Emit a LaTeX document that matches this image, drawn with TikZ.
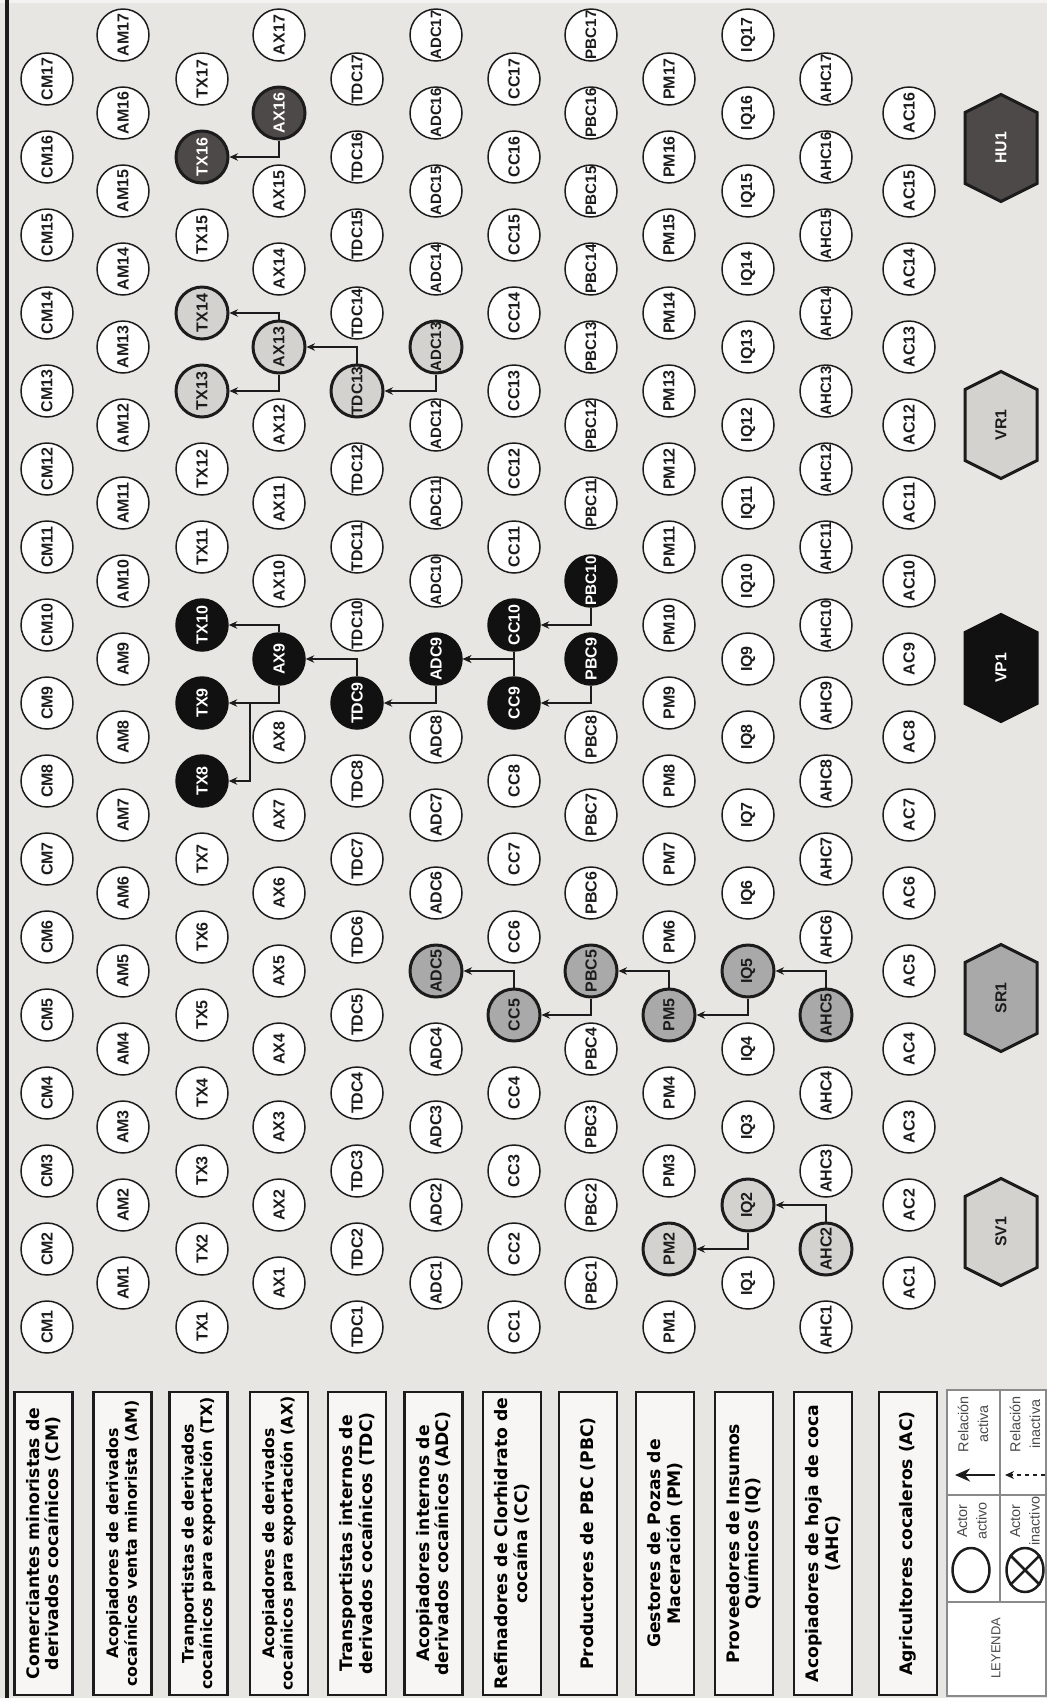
\documentclass[tikz,border=0pt]{standalone}
\usepackage{fontspec}
\setmainfont{Liberation Sans}
\newfontfamily\rolefont{DejaVu Sans}
\usetikzlibrary{arrows.meta, calc, shapes.geometric, shapes.symbols}
\definecolor{PaperGray}{HTML}{E8E6E3}
\definecolor{EdgeLight}{HTML}{F4F3F1}
\definecolor{InkBlack}{HTML}{1C1C1C}
\definecolor{BoxWhite}{HTML}{F7F6F4}
\definecolor{LightFill}{HTML}{D3D2CF}
\definecolor{MidFill}{HTML}{A9A9A9}
\definecolor{DarkFill}{HTML}{4D4948}
\definecolor{BlackFill}{HTML}{111111}
\definecolor{LegendGray}{HTML}{8A8A8A}
\definecolor{LegendText}{HTML}{4A4A4A}
\newsavebox\actorlabel
\newcommand\fitlabel[1]{\sbox\actorlabel{#1}\ifdim\wd\actorlabel>9.8mm\resizebox{9.8mm}{!}{\usebox\actorlabel}\else\usebox\actorlabel\fi}
\tikzset{
  actor/.style={circle, draw=InkBlack, line width=0.3mm, fill=white, minimum size=10.4mm, inner sep=0pt, rotate=90, text=InkBlack, font=\fontsize{9.1}{10}\selectfont\bfseries},
  lightactor/.style={fill=LightFill, line width=0.6mm},
  midactor/.style={fill=MidFill, line width=0.6mm},
  darkactor/.style={fill=DarkFill, line width=0.6mm, text=white},
  blackactor/.style={fill=BlackFill, draw=BlackFill, text=white},
  paint light/.style={on #1/.style=lightactor},
  paint mid/.style={on #1/.style=midactor},
  paint dark/.style={on #1/.style=darkactor},
  paint black/.style={on #1/.style=blackactor},
  paint light/.list={PM2,IQ2,AHC2,TX13,TX14,AX13,TDC13,ADC13},
  paint mid/.list={AHC5,IQ5,PM5,PBC5,CC5,ADC5},
  paint black/.list={TX8,TX9,TX10,AX9,TDC9,ADC9,CC9,CC10,PBC9,PBC10},
  paint dark/.list={TX16,AX16},
  hexbox/.style={signal, signal to=east and west, signal pointer angle=127, rotate=90, draw=InkBlack, line width=0.6mm, minimum width=21.4mm, minimum height=14.4mm, inner sep=0pt, text=InkBlack, font=\fontsize{9}{10}\selectfont\bfseries},
  rolebox/.style={draw=InkBlack, line width=0.5mm, fill=BoxWhite, rotate=90, align=center, minimum width=60.6mm, minimum height=11.6mm, inner sep=1pt, font=\rolefont\bfseries\fontsize{9.8}{11}\selectfont},
  tightbox/.style={font=\rolefont\bfseries\fontsize{9}{10.6}\selectfont},
  tight AM/.style=tightbox, tight TX/.style=tightbox, tight AX/.style=tightbox,
  legtext/.style={rotate=90, align=center, text=LegendText, inner sep=0pt, font=\fontsize{8.2}{11.2}\selectfont},
  legcircle/.style={ellipse, draw=InkBlack, line width=0.5mm, minimum width=7.4mm, minimum height=8.8mm, inner sep=0pt},
  rel/.style={-{Stealth[length=1.7mm, width=1.5mm]}, line width=0.27mm, draw=InkBlack},
  legarrow/.style={-{Stealth[length=3mm, width=2.6mm]}, line width=0.55mm, draw=InkBlack},
  legdash/.style={-{Stealth[length=1.8mm, width=1.6mm]}, line width=0.35mm, draw=InkBlack, dash pattern=on 0.8mm off 0.8mm}
}

\begin{document}
\begin{tikzpicture}[x=0.02cm, y=-0.02cm]
\useasboundingbox (0,0) rectangle (1047,1698);
\fill[PaperGray] (0,0) rectangle (1047,1698);
\fill[EdgeLight] (0,0) rectangle (1047,3);
\draw[InkBlack, line width=0.8mm] (7,0) -- (7,1698);

% actors, one column per link of the chain
\foreach \r/\x/\y/\n in {CM/47/1327/17, AM/123/1283/17, TX/202/1327/17, AX/279/1283/17, TDC/357/1327/17, ADC/436/1283/17, CC/514/1327/17, PBC/591/1283/17, PM/669/1327/17, IQ/748/1283/17, AHC/826/1327/17, AC/909/1283/16}
  \foreach \k in {1,...,\n}
    \node[actor, on \r\k/.try] (\r\k) at (\x,{\y-78*(\k-1)}) {\makebox[0pt]{\fitlabel{\r\k}}};

% networks
\node[hexbox, fill=LightFill] (SV1) at (1001,1232) {SV1};
\node[hexbox, fill=MidFill] (SR1) at (1001,998) {SR1};
\node[hexbox, fill=BlackFill, draw=BlackFill, text=white] (VP1) at (1001,668) {VP1};
\node[hexbox, fill=LightFill] (VR1) at (1001,425) {VR1};
\node[hexbox, fill=DarkFill, text=white] (HU1) at (1001,148) {HU1};

% active relations
\draw[rel] (AHC2) |- (IQ2);
\draw[rel] (IQ2) |- (PM2);
\draw[rel] (AHC5) |- (IQ5);
\draw[rel] (IQ5) |- (PM5);
\draw[rel] (PM5) |- (PBC5);
\draw[rel] (PBC5) |- (CC5);
\draw[rel] (CC5) |- (ADC5);
\draw[rel] (PBC10) |- (CC10);
\draw[rel] (PBC9) |- (CC9);
\draw[rel] (CC10) |- (ADC9);
\draw[rel] (CC9) |- (ADC9);
\draw[rel] (ADC9) |- (TDC9);
\draw[rel] (TDC9) |- (AX9);
\draw[rel] (AX9) |- (TX10);
\draw[rel] (AX9) |- (TX9);
\coordinate (fork8) at ($(TX9)+(48,0)$);
\draw[rel] (fork8) |- (TX8);
\draw[rel] (ADC13) |- (TDC13);
\draw[rel] (TDC13) |- (AX13);
\draw[rel] (AX13) |- (TX14);
\draw[rel] (AX13) |- (TX13);
\draw[rel] (AX16) |- (TX16);

% role labels
\foreach \r/\x/\t in {CM/43.5/{Comerciantes minoristas de\\derivados cocaínicos (CM)},
    AM/122.5/{Acopiadores de derivados\\cocaínicos venta minorista (AM)},
    TX/198.5/{Tranportistas de derivados\\cocaínicos para exportación (TX)},
    AX/279/{Acopiadores de derivados\\cocaínicos para exportación (AX)},
    TDC/357/{Transportistas internos de\\derivados cocaínicos (TDC)},
    ADC/433.5/{Acopiadores internos de\\derivados cocaínicos (ADC)},
    CC/512/{Refinadores de Clorhidrato de\\cocaína (CC)},
    PBC/588/{Productores de PBC (PBC)},
    PM/665/{Gestores de Pozas de\\Maceración (PM)},
    IQ/744/{Proveedores de Insumos\\Químicos (IQ)},
    AHC/823/{Acopiadores de hoja de coca\\(AHC)},
    AC/908/{Agricultores cocaleros (AC)}}
  \node[rolebox, tight \r/.try] (box\r) at (\x,1543.5) {\t};

% legend
\draw[LegendGray, line width=0.25mm, fill=white] (947,1390) rectangle (1046,1696);
\draw[LegendGray, line width=0.25mm] (947,1495) -- (1046,1495) (947,1602) -- (1046,1602) (1000,1390) -- (1000,1602);
\node[legtext] (relact) at (973,1424) {Relación\\activa};
\node[legtext] (relinact) at (1025,1424) {Relación\\inactiva};
\node[legtext] (actact) at (972,1521) {Actor\\activo};
\node[legtext] (actinact) at (1025,1521) {Actor\\inactivo};
\node[legtext, font=\fontsize{7.4}{9}\selectfont] (leyenda) at (996,1648) {LEYENDA};
\coordinate (ra1) at (995,1475);
\coordinate (ra2) at (955,1475);
\draw[legarrow] (ra1) -- (ra2);
\coordinate (ri1) at (1045,1475);
\coordinate (ri2) at (1005,1475);
\draw[legdash] (ri1) -- (ri2);
\node[legcircle] (legon) at (971,1570) {};
\node[legcircle] (legoff) at (1025,1570) {};
\draw[InkBlack, line width=0.5mm] (legoff.45) -- (legoff.225) (legoff.135) -- (legoff.315);
\end{tikzpicture}
\end{document}
